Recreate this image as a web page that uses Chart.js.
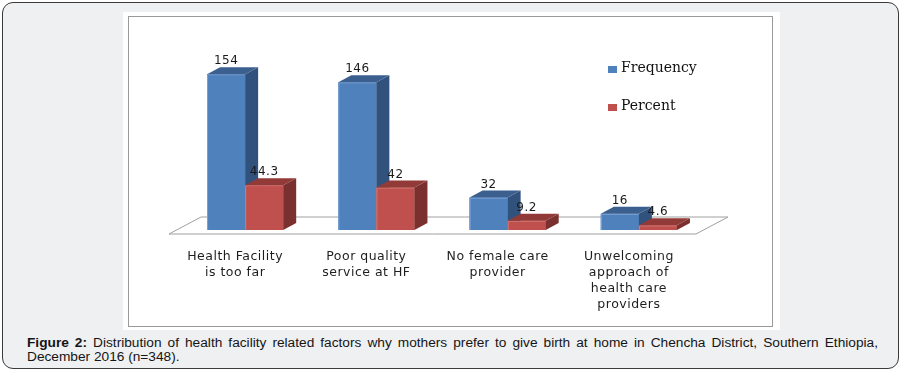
<!DOCTYPE html>
<html>
<head>
<meta charset="utf-8">
<script src="https://cdn.jsdelivr.net/npm/chart.js@4/dist/chart.umd.min.js"></script>
<style>
  html, body { margin: 0; padding: 0; background: #ffffff; }
  body { width: 902px; height: 371px; position: relative; overflow: hidden; }
  .frame { position: absolute; left: 2px; top: 2px; width: 897px; height: 367px; box-sizing: border-box;
           border: 1.5px solid #3a3a3a; border-radius: 11px; background: #eff0f2; }
  .panel { position: absolute; left: 123px; top: 12px; width: 657px; height: 318px; background: #ffffff; }
  .inner { position: absolute; left: 128px; top: 16px; width: 645px; height: 311px; box-sizing: border-box;
           border: 1.5px solid #9a9a9a; }
  canvas { position: absolute; left: 123px; top: 12px; }
  .cap { position: absolute; left: 27px; width: 851px; font-family: "Liberation Sans", Arial, sans-serif;
         font-size: 13.7px; line-height: 14px; color: #151515; }
  .l1 { top: 336px; text-align: justify; text-align-last: justify; white-space: nowrap; }
  .l2 { top: 350px; }
</style>
</head>
<body>
<div class="frame"></div>
<div class="panel"></div>
<div class="inner"></div>
<canvas id="c" width="657" height="320"></canvas>
<div class="cap l1"><b>Figure 2:</b> Distribution of health facility related factors why mothers prefer to give birth at home in Chencha District, Southern Ethiopia,</div>
<div class="cap l2">December 2016 (n=348).</div>
<script>
const categories = [
  ["Health Facility", "is too far"],
  ["Poor quality", "service at HF"],
  ["No female care", "provider"],
  ["Unwelcoming", "approach of", "health care", "providers"]
];
const frequency = [154, 146, 32, 16];
const percent = [44.3, 42, 9.2, 4.6];
const seriesNames = ["Frequency", "Percent"];
const frontColors = ["#4F81BD", "#C0504D"];
const sideColors = ["#31527c", "#7a302e"];
const topColors = ["#3b5f8f", "#923a37"];

const DX = 13, DY = 7;

const spacingPlugin = {
  id: "spacing",
  beforeDraw(chart) { chart.ctx.letterSpacing = "0.5px"; }
};

const floorPlugin = {
  id: "floor3d",
  beforeDatasetsDraw(chart) {
    const ctx = chart.ctx;
    const a = chart.chartArea;
    const base = chart.scales.y.getPixelForValue(0);
    const fy = base + 4, fl = a.left - 10.5, fr = a.right - 8.5;
    const ox = 32, oy = -17;
    ctx.save();
    ctx.beginPath();
    ctx.moveTo(fl, fy);
    ctx.lineTo(fr, fy);
    ctx.lineTo(fr + ox, fy + oy);
    ctx.lineTo(fl + ox, fy + oy);
    ctx.closePath();
    ctx.fillStyle = "#ffffff";
    ctx.fill();
    ctx.strokeStyle = "#a0a0a0";
    ctx.lineWidth = 1;
    ctx.stroke();
    ctx.restore();
  }
};

const bars3dPlugin = {
  id: "bars3d",
  afterDatasetsDraw(chart) {
    const ctx = chart.ctx;
    ctx.save();
    const n = chart.data.labels.length;
    for (let i = 0; i < n; i++) {
      for (let d = 0; d < chart.data.datasets.length; d++) {
        const el = chart.getDatasetMeta(d).data[i];
        const p = el.getProps(["x", "y", "base", "width"], true);
        const l = p.x - p.width / 2, r = p.x + p.width / 2;
        const t = p.y, b = p.base;
        // front
        ctx.fillStyle = frontColors[d];
        ctx.fillRect(l, t, r - l, b - t);
        ctx.strokeStyle = d === 0 ? "#7fa3d3" : "#d47c79";
        ctx.lineWidth = 1;
        ctx.beginPath();
        ctx.moveTo(l + 0.5, b); ctx.lineTo(l + 0.5, t + 0.5); ctx.lineTo(r, t + 0.5);
        ctx.stroke();
        // side
        ctx.fillStyle = sideColors[d];
        ctx.beginPath();
        ctx.moveTo(r, t); ctx.lineTo(r + DX, t - DY); ctx.lineTo(r + DX, b - DY); ctx.lineTo(r, b);
        ctx.closePath(); ctx.fill();
        // top
        ctx.fillStyle = topColors[d];
        ctx.beginPath();
        ctx.moveTo(l, t); ctx.lineTo(l + DX, t - DY); ctx.lineTo(r + DX, t - DY); ctx.lineTo(r, t);
        ctx.closePath(); ctx.fill();
      }
    }
    // value labels
    ctx.font = "12px 'DejaVu Sans'";
    ctx.letterSpacing = "0.5px";
    ctx.fillStyle = "#1a1a1a";
    ctx.textAlign = "center";
    ctx.textBaseline = "middle";
    for (let d = 0; d < chart.data.datasets.length; d++) {
      const meta = chart.getDatasetMeta(d);
      meta.data.forEach((el, i) => {
        const p = el.getProps(["x", "y"], true);
        ctx.fillText(String(chart.data.datasets[d].data[i]), p.x, p.y - 13);
      });
    }
    ctx.restore();
  },
  afterDraw(chart) {
    const ctx = chart.ctx;
    ctx.save();
    ctx.letterSpacing = "0px";
    ctx.font = "14px 'DejaVu Serif'";
    ctx.textAlign = "left";
    ctx.textBaseline = "alphabetic";
    chart.data.datasets.forEach((ds, d) => {
      const y = 60 + d * 38;
      ctx.fillStyle = frontColors[d];
      ctx.fillRect(485, y - 6, 9, 7);
      ctx.fillStyle = "#111111";
      ctx.fillText(ds.label, 498, y);
    });
    ctx.restore();
  }
};

new Chart(document.getElementById("c"), {
  type: "bar",
  data: {
    labels: categories,
    datasets: [
      { label: seriesNames[0], data: frequency, backgroundColor: frontColors[0] },
      { label: seriesNames[1], data: percent, backgroundColor: frontColors[1] }
    ]
  },
  options: {
    responsive: false,
    devicePixelRatio: 1,
    animation: false,
    categoryPercentage: 0.58,
    barPercentage: 1,
    layout: { padding: { top: 46, left: 56.5, right: 75.5, bottom: 2 } },
    plugins: { legend: { display: false }, tooltip: { enabled: false } },
    scales: {
      y: { display: false, min: 0, max: 170 },
      x: {
        grid: { display: false },
        border: { display: false },
        ticks: {
          autoSkip: false, maxRotation: 0, minRotation: 0, padding: 11, labelOffset: -10,
          color: "#1e1e1e",
          font: { family: "'DejaVu Sans'", size: 12.5, lineHeight: 1.28 }
        },
        afterFit(scale) { scale.height = 100; }
      }
    }
  },
  plugins: [spacingPlugin, floorPlugin, bars3dPlugin]
});
</script>
</body>
</html>
